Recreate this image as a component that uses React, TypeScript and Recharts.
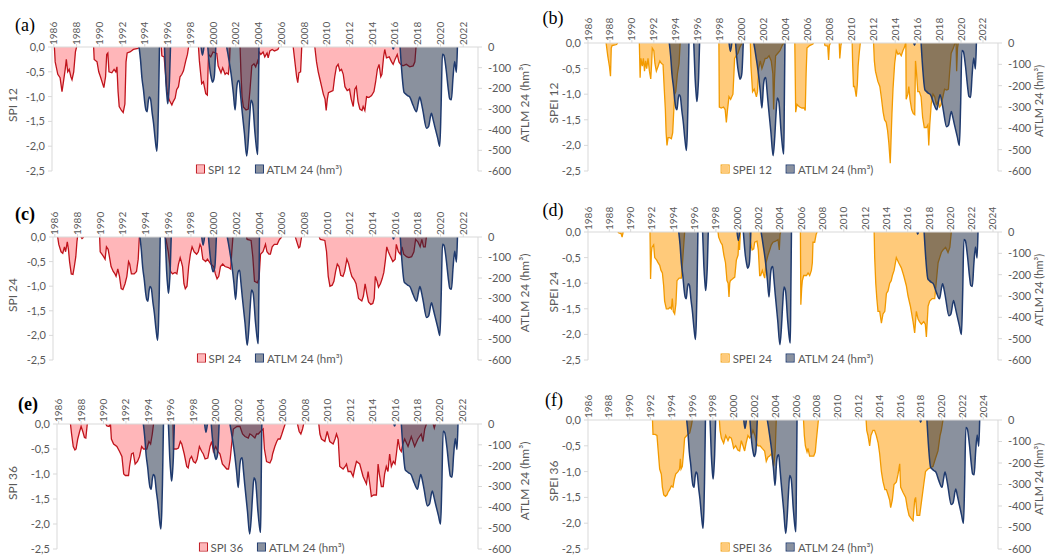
import { ComposedChart, Area, XAxis, YAxis } from "recharts";

type Pt = [number, number];

// ATLM 24 (hm³) – shared by all six panels, in its own year scale
const ATLM_24: Pt[][] = [
  [[1993.5, 0], [1993.62, -60], [1993.75, -150], [1993.89, -210], [1994.0, -270], [1994.1, -305], [1994.2, -313], [1994.3, -265], [1994.39, -242], [1994.5, -250], [1994.65, -320], [1994.77, -369], [1994.92, -450], [1995.06, -504], [1995.14, -420], [1995.2, -290], [1995.29, 0]],
  [[1995.73, 0], [1995.85, -162], [1995.95, -240], [1996.02, -274], [1996.1, -230], [1996.17, -162], [1996.26, 0]],
  [[1998.95, 0], [1999.07, -40], [1999.2, 0]],
  [[1999.54, 0], [1999.65, -70], [1999.74, -115], [1999.85, -150], [1999.95, -170], [2000.05, -160], [2000.12, -138], [2000.24, 0]],
  [[2001.2, 0], [2001.3, -30], [2001.41, -67], [2001.59, -131], [2001.79, -226], [2001.94, -305], [2002.09, -194], [2002.2, -165], [2002.29, -162], [2002.4, -220], [2002.52, -290], [2002.76, -417], [2002.96, -528], [2003.1, -450], [2003.22, -340], [2003.34, -258], [2003.48, -274], [2003.69, -417], [2003.85, -500], [2003.93, -520], [2003.98, -300], [2004.04, 0]],
  [[2015.78, 0], [2015.85, -10], [2015.92, 0]],
  [[2016.45, 0], [2016.6, -120], [2016.8, -220], [2016.95, -228], [2017.1, -235], [2017.3, -242], [2017.59, -282], [2017.89, -313], [2018.05, -270], [2018.18, -242], [2018.32, -270], [2018.47, -313], [2018.77, -393], [2018.95, -385], [2019.2, -321], [2019.35, -350], [2019.5, -385], [2019.75, -440], [2019.94, -480], [2020.05, -300], [2020.17, -35], [2020.3, -40], [2020.5, -110], [2020.7, -210], [2020.81, -250], [2020.96, -255], [2021.1, -150], [2021.25, -70], [2021.4, -122], [2021.49, 0]],
];

const SPI_12: Pt[][] = [
  [[1986.05, 0], [1986.12, -0.3], [1986.35, -0.55], [1986.55, -0.62], [1986.72, -0.9], [1986.85, -0.7], [1987.0, -0.45], [1987.1, -0.25], [1987.22, -0.5], [1987.35, -0.45], [1987.5, -0.6], [1987.6, -0.66], [1987.75, -0.5], [1987.9, -0.1], [1988.0, 0]],
  [[1989.5, 0], [1989.55, -0.25], [1989.8, -0.3], [1989.95, -0.5], [1990.1, -0.6], [1990.4, -0.82], [1990.55, -0.6], [1990.65, -0.15], [1990.75, -0.12], [1990.85, -0.5], [1991.1, -0.52], [1991.3, -0.45], [1991.45, -0.5], [1991.55, -0.4], [1991.65, -0.9], [1991.75, -1.2], [1991.95, -1.28], [1992.1, -1.32], [1992.25, -1.15], [1992.35, -0.3], [1992.45, -0.12], [1992.7, -0.1], [1993.0, -0.05], [1993.4, -0.03], [1993.5, 0]],
  [[1995.45, 0], [1995.5, -0.18], [1995.7, -0.2], [1995.95, -0.9], [1996.15, -1.07], [1996.38, -1.17], [1996.5, -1.1], [1996.67, -1.03], [1996.8, -0.86], [1996.96, -0.8], [1997.1, -0.6], [1997.26, -0.55], [1997.4, -0.48], [1997.6, -0.28], [1997.75, -0.15], [1997.85, 0]],
  [[1998.72, 0], [1998.8, -0.28], [1999.0, -0.74], [1999.15, -0.7], [1999.36, -0.94], [1999.5, -0.97], [1999.6, -0.15], [1999.8, -0.2], [2000.0, -0.1], [2000.33, -0.13], [2000.45, -0.38], [2000.7, -0.52], [2000.85, -0.42], [2001.06, -0.55], [2001.2, -0.52], [2001.35, -0.55], [2001.45, -0.3], [2001.5, 0]],
  [[2002.38, 0], [2002.45, -0.5], [2002.55, -1.0], [2002.67, -1.21], [2002.9, -1.27], [2003.1, -1.25], [2003.25, -0.87], [2003.41, -0.38], [2003.6, -0.34], [2003.75, -0.4], [2003.93, -0.28], [2004.0, -0.35], [2004.05, -0.1], [2004.2, -0.15], [2004.4, -0.1], [2004.55, -0.2], [2004.75, -0.12], [2004.85, -0.22], [2005.0, -0.08], [2005.2, -0.05], [2005.4, -0.08], [2005.7, -0.05], [2005.8, 0]],
  [[2007.05, 0], [2007.2, -0.3], [2007.35, -0.6], [2007.45, -0.72], [2007.55, -0.52], [2007.7, -0.5], [2007.8, 0]],
  [[2008.95, 0], [2009.1, -0.3], [2009.25, -0.5], [2009.4, -0.65], [2009.55, -0.8], [2009.7, -0.95], [2009.85, -1.05], [2009.95, -1.28], [2010.05, -1.05], [2010.15, -0.92], [2010.35, -0.9], [2010.55, -0.88], [2010.7, -0.6], [2010.85, -0.4], [2011.0, -0.35], [2011.15, -0.48], [2011.3, -0.45], [2011.45, -0.55], [2011.6, -0.8], [2011.8, -0.88], [2012.0, -0.85], [2012.15, -1.05], [2012.33, -1.2], [2012.47, -0.85], [2012.6, -0.8], [2012.75, -1.1], [2012.91, -1.25], [2013.1, -1.28], [2013.2, -1.2], [2013.35, -1.28], [2013.5, -1.0], [2013.7, -1.02], [2013.94, -0.98], [2014.15, -0.9], [2014.3, -0.7], [2014.45, -0.45], [2014.6, -0.35], [2014.75, -0.6], [2014.85, -0.55], [2015.0, -0.2], [2015.1, -0.05], [2015.25, -0.22], [2015.5, -0.2], [2015.7, -0.3], [2015.84, -0.35], [2016.0, -0.25], [2016.2, -0.15], [2016.35, -0.3], [2016.5, -0.35], [2016.7, -0.38], [2017.0, -0.35], [2017.3, -0.4], [2017.6, -0.38], [2017.75, -0.3], [2017.85, 0]],
];

const SPI_24: Pt[][] = [
  [[1986.25, 0], [1986.35, -0.15], [1986.55, -0.3], [1986.7, -0.33], [1986.85, -0.2], [1986.95, -0.3], [1987.1, -0.1], [1987.2, -0.25], [1987.3, -0.5], [1987.45, -0.75], [1987.6, -0.76], [1987.72, -0.6], [1987.85, -0.4], [1987.95, -0.1], [1988.0, 0]],
  [[1988.3, 0], [1988.4, -0.03], [1988.55, 0]],
  [[1989.95, 0], [1990.0, -0.3], [1990.15, -0.35], [1990.3, -0.4], [1990.43, -0.45], [1990.55, -0.2], [1990.7, -0.25], [1990.85, -0.45], [1990.96, -0.6], [1991.15, -0.7], [1991.3, -0.75], [1991.4, -0.8], [1991.55, -0.65], [1991.7, -0.8], [1991.85, -1.05], [1992.0, -1.07], [1992.19, -0.95], [1992.35, -0.8], [1992.5, -0.5], [1992.6, -0.55], [1992.75, -0.75], [1993.0, -0.75], [1993.2, -0.7], [1993.35, -0.45], [1993.45, 0]],
  [[1995.7, 0], [1995.8, -0.05], [1996.0, -0.3], [1996.2, -0.7], [1996.38, -0.75], [1996.6, -0.72], [1996.76, -0.75], [1996.9, -0.55], [1997.05, -0.42], [1997.15, -0.5], [1997.26, -0.6], [1997.38, -0.95], [1997.5, -1.05], [1997.65, -1.0], [1997.8, -0.6], [1997.95, -0.35], [1998.1, -0.2], [1998.28, -0.3], [1998.5, -0.35], [1998.65, -0.3], [1998.8, -0.15], [1998.9, -0.2], [1999.05, -0.45], [1999.3, -0.5], [1999.45, -0.45], [1999.6, -0.5], [1999.75, -0.55], [2000.0, -0.6], [2000.15, -0.75], [2000.3, -0.85], [2000.45, -0.8], [2000.6, -0.6], [2000.8, -0.55], [2001.0, -0.6], [2001.3, -0.62], [2001.5, -0.65], [2001.6, -0.3], [2001.7, 0]],
  [[2002.9, 0], [2002.95, -0.05], [2003.3, -0.07], [2003.45, -0.4], [2003.6, -0.9], [2003.85, -0.93], [2004.0, -0.85], [2004.13, -0.35], [2004.35, -0.3], [2004.57, -0.15], [2004.7, -0.3], [2004.87, -0.35], [2005.0, -0.35], [2005.16, -0.2], [2005.35, -0.15], [2005.6, -0.15], [2005.8, -0.05], [2006.0, 0]],
  [[2007.2, 0], [2007.4, -0.15], [2007.5, -0.22], [2007.6, -0.2], [2007.75, 0]],
  [[2009.3, 0], [2009.4, -0.05], [2009.8, -0.07], [2009.95, -0.3], [2010.1, -0.8], [2010.25, -1.0], [2010.45, -0.98], [2010.6, -0.9], [2010.75, -0.7], [2010.9, -0.55], [2011.05, -0.6], [2011.2, -0.78], [2011.4, -0.8], [2011.55, -0.7], [2011.74, -0.45], [2011.9, -0.55], [2012.05, -0.7], [2012.18, -0.8], [2012.39, -0.87], [2012.55, -0.95], [2012.77, -1.25], [2012.95, -1.28], [2013.06, -1.3], [2013.2, -1.2], [2013.35, -0.95], [2013.5, -1.15], [2013.65, -1.32], [2013.85, -1.37], [2014.03, -1.35], [2014.15, -1.25], [2014.25, -0.8], [2014.4, -0.9], [2014.53, -1.02], [2014.7, -0.95], [2014.85, -0.85], [2015.0, -0.72], [2015.15, -0.45], [2015.26, -0.2], [2015.4, -0.3], [2015.55, -0.38], [2015.79, -0.5], [2016.0, -0.45], [2016.1, -0.15], [2016.28, -0.3], [2016.45, -0.35], [2016.6, -0.2], [2016.75, -0.35], [2017.0, -0.4], [2017.2, -0.42], [2017.45, -0.4], [2017.65, -0.3], [2017.8, -0.05], [2018.0, -0.1], [2018.2, -0.2], [2018.35, -0.05], [2018.5, -0.2], [2018.65, -0.2], [2018.75, 0]],
];

const SPI_36: Pt[][] = [
  [[1987.05, 0], [1987.15, -0.2], [1987.3, -0.45], [1987.45, -0.52], [1987.55, -0.5], [1987.7, -0.3], [1987.87, -0.15], [1988.0, -0.05], [1988.15, -0.15], [1988.3, -0.27], [1988.42, -0.28], [1988.55, 0]],
  [[1990.2, 0], [1990.3, -0.04], [1990.5, -0.05], [1990.6, 0]],
  [[1990.62, 0], [1990.7, -0.3], [1990.9, -0.4], [1991.19, -0.45], [1991.43, -0.55], [1991.64, -0.65], [1991.8, -1.0], [1991.95, -1.03], [1992.23, -1.03], [1992.32, -0.85], [1992.5, -0.6], [1992.65, -0.58], [1992.82, -0.8], [1993.03, -0.75], [1993.21, -0.65], [1993.4, -0.45], [1993.57, -0.5], [1993.86, -0.5], [1994.05, -0.35], [1994.2, -0.4], [1994.35, -0.2], [1994.46, 0]],
  [[1996.2, 0], [1996.24, -0.5], [1996.5, -0.5], [1996.68, -0.48], [1996.85, -0.35], [1996.98, -0.4], [1997.2, -0.6], [1997.42, -0.85], [1997.55, -0.88], [1997.7, -0.7], [1997.85, -0.65], [1998.02, -0.75], [1998.2, -0.78], [1998.35, -0.7], [1998.55, -0.45], [1998.76, -0.55], [1998.9, -0.6], [1999.06, -0.7], [1999.3, -0.68], [1999.5, -0.45], [1999.65, -0.35], [1999.8, -0.55], [2000.0, -0.45], [2000.2, -0.55], [2000.39, -0.6], [2000.6, -0.8], [2000.8, -0.85], [2000.99, -0.9], [2001.15, -0.9], [2001.3, -0.7], [2001.43, -0.4], [2001.58, -0.1], [2001.9, -0.05], [2002.17, -0.05], [2002.4, -0.2], [2002.62, -0.25], [2002.91, -0.28], [2003.05, -0.2], [2003.21, -0.22], [2003.5, -0.28], [2003.65, -0.2], [2003.8, -0.2], [2004.0, -0.15], [2004.24, -0.1], [2004.35, -0.5], [2004.54, -0.75], [2004.84, -0.78], [2005.0, -0.7], [2005.08, -0.6], [2005.28, -0.45], [2005.45, -0.35], [2005.58, -0.3], [2005.75, -0.3], [2005.88, -0.22], [2006.05, -0.1], [2006.2, 0]],
  [[2007.3, 0], [2007.45, -0.15], [2007.6, -0.2], [2007.75, -0.1], [2007.85, 0]],
  [[2009.2, 0], [2009.3, -0.2], [2009.44, -0.3], [2009.74, -0.35], [2009.95, -0.15], [2010.18, -0.35], [2010.48, -0.4], [2010.65, -0.3], [2010.78, -0.2], [2010.93, -0.3], [2011.07, -0.85], [2011.37, -0.9], [2011.55, -0.85], [2011.67, -0.8], [2011.82, -0.95], [2012.05, -0.95], [2012.26, -1.05], [2012.4, -0.9], [2012.56, -0.75], [2012.85, -0.8], [2013.15, -1.05], [2013.45, -1.2], [2013.6, -0.95], [2013.75, -1.2], [2013.89, -1.45], [2014.1, -1.42], [2014.34, -1.42], [2014.49, -0.8], [2014.6, -1.0], [2014.78, -1.25], [2014.95, -1.25], [2015.07, -1.0], [2015.22, -0.85], [2015.37, -0.95], [2015.52, -0.6], [2015.67, -0.85], [2015.85, -0.75], [2016.0, -0.8], [2016.12, -0.6], [2016.27, -0.3], [2016.42, -0.5], [2016.56, -0.55], [2016.7, -0.4], [2016.86, -0.3], [2017.16, -0.45], [2017.45, -0.25], [2017.75, -0.45], [2018.04, -0.3], [2018.34, -0.2], [2018.49, -0.35], [2018.65, -0.1], [2018.8, 0]],
  [[2019.4, 0], [2019.5, -0.08], [2019.6, 0]],
];

const SPEI_12: Pt[][] = [
  [[1987.65, 0], [1987.8, -0.25], [1987.95, -0.45], [1988.05, -0.65], [1988.12, -0.1], [1988.2, -0.05], [1988.6, -0.03], [1988.7, 0]],
  [[1990.68, 0], [1990.75, -0.68], [1990.82, -0.3], [1990.95, -0.45], [1991.05, -0.3], [1991.15, -0.55], [1991.25, -0.35], [1991.35, -0.5], [1991.47, -0.3], [1991.6, -0.55], [1991.72, -0.7], [1991.8, -0.4], [1991.86, -0.1], [1992.0, -0.15], [1992.1, -0.4], [1992.23, -0.55], [1992.4, -0.45], [1992.55, -0.35], [1992.7, -0.4], [1992.84, -0.42], [1992.95, -0.9], [1993.05, -1.3], [1993.12, -1.75], [1993.2, -2.0], [1993.3, -1.85], [1993.45, -1.85], [1993.6, -1.87], [1993.72, -1.75], [1993.8, -1.4], [1993.9, -1.0], [1994.0, -0.95], [1994.15, -0.6], [1994.3, -0.4], [1994.4, 0]],
  [[1997.93, 0], [1997.97, -1.25], [1998.15, -1.27], [1998.35, -1.25], [1998.5, -1.3], [1998.61, -1.55], [1998.72, -1.3], [1998.85, -1.05], [1999.0, -1.1], [1999.21, -1.0], [1999.3, -0.6], [1999.36, -0.3], [1999.5, -0.25], [1999.67, -0.2], [1999.85, -0.08], [2000.05, 0]],
  [[2000.8, 0], [2000.85, -0.45], [2001.0, -0.95], [2001.15, -0.9], [2001.35, -1.05], [2001.45, -0.95], [2001.55, -0.5], [2001.7, -0.35], [2001.85, -0.5], [2002.0, -0.4], [2002.15, -0.3], [2002.3, -0.3], [2002.5, -0.25], [2002.7, -0.35], [2002.85, -0.6], [2002.92, -1.3], [2003.0, -0.7], [2003.1, -0.25], [2003.3, -0.2], [2003.5, -0.15], [2003.7, -0.05], [2003.85, 0]],
  [[2004.85, 0], [2004.93, -1.35], [2005.05, -1.2], [2005.14, -1.22], [2005.3, -1.25], [2005.5, -1.27], [2005.7, -1.27], [2005.8, -1.32], [2005.88, -0.6], [2005.96, -0.1], [2006.2, -0.05], [2006.5, -0.02], [2006.55, 0]],
  [[2007.55, 0], [2007.6, -0.05], [2007.85, -0.06], [2007.93, -0.33], [2008.0, -0.05], [2008.1, 0]],
  [[2008.9, 0], [2008.95, -0.3], [2009.05, -0.05], [2009.1, 0]],
  [[2010.08, 0], [2010.12, -0.4], [2010.2, -0.85], [2010.3, -0.85], [2010.45, -1.05], [2010.55, -0.8], [2010.62, -0.45], [2010.72, -0.2], [2010.82, 0]],
  [[2012.03, 0], [2012.1, -0.35], [2012.2, -0.55], [2012.42, -0.75], [2012.6, -0.85], [2012.73, -1.05], [2012.9, -1.35], [2013.03, -1.5], [2013.18, -1.55], [2013.3, -1.7], [2013.42, -1.95], [2013.55, -2.35], [2013.62, -1.9], [2013.7, -1.4], [2013.8, -0.9], [2013.95, -0.4], [2014.1, -0.15], [2014.25, -0.22], [2014.4, -0.2], [2014.55, -0.25], [2014.7, -0.15], [2014.85, -0.08], [2014.95, 0]],
  [[2014.97, 0], [2015.0, -1.1], [2015.15, -1.0], [2015.24, -0.85], [2015.35, -1.1], [2015.5, -1.3], [2015.65, -1.38], [2015.78, -1.4], [2015.85, -0.35], [2015.95, -0.6], [2016.06, -0.95], [2016.2, -0.95], [2016.36, -1.05], [2016.5, -1.45], [2016.65, -1.65], [2016.85, -1.65], [2016.98, -1.6], [2017.06, -2.0], [2017.15, -1.6], [2017.28, -1.2], [2017.45, -1.0], [2017.6, -1.05], [2017.75, -1.2], [2017.9, -1.15], [2018.05, -1.25], [2018.19, -1.2], [2018.35, -1.05], [2018.5, -0.9], [2018.7, -0.92], [2018.85, -0.9], [2018.95, -0.6], [2019.1, -0.2], [2019.3, -0.1], [2019.45, 0]],
  [[2019.55, 0], [2019.6, -0.55], [2019.68, -0.1], [2019.75, 0]],
];

const SPEI_24: Pt[][] = [
  [[1988.8, 0], [1988.9, -0.02], [1989.1, -0.03], [1989.2, -0.1], [1989.3, 0]],
  [[1991.82, 0], [1991.87, -0.92], [1991.95, -0.4], [1992.0, -0.3], [1992.16, -0.25], [1992.26, -0.5], [1992.45, -0.55], [1992.57, -0.6], [1992.73, -0.65], [1992.85, -0.75], [1992.98, -0.8], [1993.1, -1.05], [1993.19, -1.35], [1993.35, -1.5], [1993.55, -1.5], [1993.7, -1.47], [1993.82, -1.5], [1993.91, -1.3], [1994.0, -1.55], [1994.13, -1.6], [1994.25, -1.4], [1994.35, -0.95], [1994.55, -0.9], [1994.76, -0.9], [1994.9, -0.5], [1995.0, -0.2], [1995.07, 0]],
  [[1998.2, 0], [1998.26, -0.1], [1998.45, -0.2], [1998.6, -0.25], [1998.75, -0.45], [1998.9, -0.6], [1999.04, -0.95], [1999.15, -1.0], [1999.23, -1.27], [1999.3, -1.0], [1999.36, -0.95], [1999.55, -0.92], [1999.77, -0.88], [1999.92, -0.55], [2000.08, -0.45], [2000.15, -0.15], [2000.22, -0.35], [2000.3, 0]],
  [[2001.2, 0], [2001.25, -0.2], [2001.4, -0.35], [2001.55, -0.33], [2001.64, -0.2], [2001.86, -0.18], [2001.98, -0.35], [2002.11, -0.85], [2002.2, -0.85], [2002.36, -0.75], [2002.5, -0.85], [2002.58, -0.9], [2002.7, -0.6], [2002.89, -0.45], [2003.05, -0.35], [2003.2, -0.25], [2003.36, -0.2], [2003.6, -0.18], [2003.83, -0.15], [2003.95, -0.35], [2004.02, -0.05], [2004.08, 0]],
  [[2005.93, 0], [2005.97, -1.42], [2006.05, -1.1], [2006.11, -0.95], [2006.24, -0.85], [2006.5, -0.85], [2006.65, -0.8], [2006.8, -0.85], [2006.96, -0.75], [2007.05, -0.6], [2007.11, -0.2], [2007.27, -0.2], [2007.4, -0.05], [2007.5, 0]],
  [[2012.85, 0], [2012.9, -0.5], [2013.0, -1.0], [2013.1, -1.3], [2013.21, -1.55], [2013.37, -1.55], [2013.53, -1.78], [2013.68, -1.6], [2013.85, -1.55], [2014.0, -1.2], [2014.15, -1.15], [2014.31, -1.0], [2014.45, -0.95], [2014.56, -0.85], [2014.72, -0.75], [2014.93, -0.5], [2015.15, -0.6], [2015.4, -0.7], [2015.62, -0.85], [2015.87, -1.05], [2016.03, -1.25], [2016.25, -1.45], [2016.5, -1.75], [2016.65, -1.97], [2016.81, -1.55], [2016.97, -1.7], [2017.1, -1.75], [2017.28, -1.8], [2017.5, -1.75], [2017.65, -1.8], [2017.75, -2.05], [2017.91, -1.45], [2018.06, -1.35], [2018.3, -1.3], [2018.53, -1.3], [2018.69, -0.95], [2018.85, -0.6], [2019.0, -0.5], [2019.15, -0.4], [2019.31, -0.35], [2019.55, -0.3], [2019.78, -0.4], [2019.95, -0.3], [2020.09, 0]],
];

const SPEI_36: Pt[][] = [
  [[1992.2, 0], [1992.25, -0.28], [1992.45, -0.28], [1992.63, -0.3], [1992.75, -0.6], [1992.89, -0.95], [1993.05, -1.05], [1993.15, -1.3], [1993.28, -1.45], [1993.45, -1.48], [1993.6, -1.45], [1993.69, -1.4], [1993.85, -1.35], [1994.01, -1.28], [1994.17, -1.3], [1994.3, -1.15], [1994.43, -1.05], [1994.65, -1.0], [1994.8, -0.95], [1994.88, -0.75], [1994.95, -0.95], [1995.07, -0.9], [1995.2, -0.6], [1995.29, -0.35], [1995.5, -0.3], [1995.78, -0.25], [1995.95, -0.1], [1996.03, 0]],
  [[1998.63, 0], [1998.7, -0.2], [1998.82, -0.35], [1999.04, -0.45], [1999.24, -0.3], [1999.46, -0.4], [1999.6, -0.33], [1999.78, -0.35], [1999.9, -0.45], [2000.0, -0.55], [2000.2, -0.5], [2000.4, -0.58], [2000.58, -0.6], [2000.74, -0.4], [2000.9, -0.5], [2001.06, -0.6], [2001.2, -0.45], [2001.38, -0.3], [2001.55, -0.35], [2001.7, -0.3], [2001.86, -0.2], [2002.05, -0.3], [2002.2, -0.45], [2002.34, -0.5], [2002.55, -0.5], [2002.75, -0.55], [2002.98, -0.6], [2003.14, -0.8], [2003.3, -0.72], [2003.46, -0.7], [2003.65, -0.65], [2003.85, -0.9], [2004.0, -0.6], [2004.1, 0]],
  [[2006.72, 0], [2006.8, -0.3], [2006.9, -0.5], [2007.06, -0.62], [2007.15, -0.55], [2007.31, -0.7], [2007.5, -0.7], [2007.7, -0.7], [2007.85, -0.62], [2007.95, -0.4], [2008.05, -0.2], [2008.15, 0]],
  [[2012.74, 0], [2012.8, -0.2], [2012.92, -0.3], [2013.08, -0.5], [2013.2, -0.3], [2013.4, -0.2], [2013.55, -0.2], [2013.72, -0.3], [2013.9, -0.45], [2014.04, -0.65], [2014.21, -1.0], [2014.37, -1.2], [2014.55, -1.35], [2014.69, -1.35], [2014.85, -1.45], [2015.0, -1.55], [2015.1, -1.7], [2015.26, -1.55], [2015.42, -1.25], [2015.65, -1.2], [2015.81, -1.05], [2015.97, -0.85], [2016.06, -1.3], [2016.28, -1.4], [2016.54, -1.5], [2016.7, -1.7], [2016.87, -1.85], [2017.05, -1.9], [2017.25, -1.95], [2017.41, -1.55], [2017.5, -1.5], [2017.63, -1.85], [2017.89, -1.85], [2018.05, -1.6], [2018.28, -1.25], [2018.45, -1.0], [2018.69, -0.95], [2018.95, -0.92], [2019.17, -0.9], [2019.4, -0.75], [2019.65, -0.6], [2019.85, -0.3], [2019.97, -0.2], [2020.13, 0]],
];

const YEARS_TO_2022 = [1986, 1988, 1990, 1992, 1994, 1996, 1998, 2000, 2002, 2004, 2006, 2008, 2010, 2012, 2014, 2016, 2018, 2020, 2022];
const YEARS_TO_2024 = [...YEARS_TO_2022, 2024];
const SPI_TICKS = [0, -0.5, -1, -1.5, -2, -2.5];
const ATLM_TICKS = [0, -100, -200, -300, -400, -500, -600];

const FONT = "Lato, 'Liberation Sans', sans-serif";
const GREY = "#595959";
const AXIS = "#d9d9d9";
const RED = { fill: "#ffb6b9", stroke: "#c0141c" };
const ORANGE = { fill: "#ffca7a", stroke: "#f29a00" };
const NAVY = { fill: "#15233d", stroke: "#1f3a6e" };

type Row = { x: number; v: number | null };

function toRows(segs: Pt[][]): Row[] {
  const rows: Row[] = [];
  segs.forEach((seg, i) => {
    if (i > 0) rows.push({ x: seg[0][0], v: null });
    seg.forEach(([x, v]) => rows.push({ x, v }));
  });
  return rows;
}

const ATLM_ROWS = toRows(ATLM_24);

type Panel = {
  letter: string;
  bold: boolean;
  name: string;
  series: Pt[][];
  color: { fill: string; stroke: string };
  box: [number, number, number, number];
  plot: [number, number, number, number];
  years: number[];
  xDomain: [number, number];
  atlmDomain: [number, number];
  letterAt: [number, number];
  titleX: number;
};

const PANELS: Panel[] = [
  { letter: "(a)", bold: false, name: "SPI 12", series: SPI_12, color: RED, box: [0, 0, 520, 180], plot: [52, 478, 47, 171], years: YEARS_TO_2022, xDomain: [1985.84, 2023.3], atlmDomain: [1985.84, 2023.3], letterAt: [25, 25], titleX: 13 },
  { letter: "(b)", bold: false, name: "SPEI 12", series: SPEI_12, color: ORANGE, box: [520, 0, 525, 180], plot: [588, 998, 43, 171], years: YEARS_TO_2022, xDomain: [1986, 2023.37], atlmDomain: [1986.09, 2023.46], letterAt: [553, 18], titleX: 554 },
  { letter: "(c)", bold: true, name: "SPI 24", series: SPI_24, color: RED, box: [0, 180, 520, 190], plot: [53, 478, 237, 360], years: YEARS_TO_2022, xDomain: [1985.84, 2023.3], atlmDomain: [1985.84, 2023.3], letterAt: [25, 214], titleX: 13 },
  { letter: "(d)", bold: false, name: "SPEI 24", series: SPEI_24, color: ORANGE, box: [520, 180, 525, 190], plot: [588, 998, 232, 360], years: YEARS_TO_2024, xDomain: [1986, 2024.47], atlmDomain: [1985.01, 2023.36], letterAt: [553, 210], titleX: 554 },
  { letter: "(e)", bold: true, name: "SPI 36", series: SPI_36, color: RED, box: [0, 370, 520, 185], plot: [57, 478, 424, 549], years: YEARS_TO_2022, xDomain: [1985.85, 2023.4], atlmDomain: [1985.82, 2023.27], letterAt: [28, 404], titleX: 13 },
  { letter: "(f)", bold: false, name: "SPEI 36", series: SPEI_36, color: ORANGE, box: [520, 370, 525, 185], plot: [588, 998, 420, 549], years: YEARS_TO_2024, xDomain: [1986, 2025.42], atlmDomain: [1984.07, 2023.24], letterAt: [554, 400], titleX: 554 },
];

const fmtComma = (v: number) => v.toFixed(1).replace(".", ",");

function YearTick(props: any) {
  const { x, y, payload } = props;
  const px = x + 3.5;
  const py = y + 3;
  return (
    <text x={px} y={py} transform={`rotate(-90 ${px} ${py})`} textAnchor="start" fontSize={10} fill={GREY} fontFamily={FONT}>
      {payload.value}
    </text>
  );
}

function Swatch({ fill, stroke, opacity = 1 }: { fill: string; stroke: string; opacity?: number }) {
  return (
    <span style={{ position: "relative", display: "inline-block", width: 7, height: 7, border: `1px solid ${stroke}`, marginRight: 3 }}>
      <span style={{ position: "absolute", inset: 0, background: fill, opacity }} />
    </span>
  );
}

function PanelChart({ p }: { p: Panel }) {
  const [bx, by, bw, bh] = p.box;
  const [x0, x1, y0, y1] = p.plot;
  const margin = { left: x0 - bx - 40, right: bx + bw - x1 - 40, top: y0 - by - 40, bottom: by + bh - y1 };
  const midY = (y0 + y1) / 2;
  const rot = { position: "absolute" as const, transform: "translate(-50%, -50%) rotate(-90deg)", whiteSpace: "nowrap" as const, fontFamily: FONT, fontSize: 12, lineHeight: 1, color: GREY };
  const rightTitle = bx === 0 ? { left: 525 } : { left: 1038, fontSize: 11 };

  return (
    <>
      <div style={{ position: "absolute", left: bx, top: by }}>
        <ComposedChart width={bw} height={bh} margin={margin}>
          <XAxis xAxisId="top" orientation="top" type="number" dataKey="x" domain={p.xDomain} ticks={p.years} interval={0} allowDataOverflow height={40} tick={<YearTick />} tickSize={3} tickMargin={2} axisLine={{ stroke: AXIS }} tickLine={{ stroke: AXIS }} />
          <XAxis xAxisId="atlm" type="number" dataKey="x" domain={p.atlmDomain} allowDataOverflow hide />
          <YAxis yAxisId="spi" domain={[-2.5, 0]} ticks={SPI_TICKS} interval={0} allowDataOverflow width={40} tickFormatter={fmtComma} tick={{ fontSize: 11, fill: GREY, fontFamily: FONT }} tickSize={4} tickMargin={3} axisLine={{ stroke: AXIS }} tickLine={{ stroke: AXIS }} />
          <YAxis yAxisId="atlm" orientation="right" domain={[-600, 0]} ticks={ATLM_TICKS} interval={0} allowDataOverflow width={40} tick={{ fontSize: 11, fill: GREY, fontFamily: FONT }} tickSize={4} tickMargin={6} axisLine={{ stroke: AXIS }} tickLine={{ stroke: AXIS }} />
          <Area data={toRows(p.series)} xAxisId="top" yAxisId="spi" dataKey="v" type="linear" baseValue={0} fill={p.color.fill} fillOpacity={1} stroke={p.color.stroke} strokeWidth={1.3} isAnimationActive={false} />
          <Area data={ATLM_ROWS} xAxisId="atlm" yAxisId="atlm" dataKey="v" type="monotone" baseValue={0} fill={NAVY.fill} fillOpacity={0.5} stroke={NAVY.stroke} strokeWidth={1.5} isAnimationActive={false} />
        </ComposedChart>
      </div>
      <div style={{ position: "absolute", left: p.letterAt[0], top: p.letterAt[1], transform: "translate(-50%, -50%)", fontFamily: "'Liberation Serif', 'Times New Roman', serif", fontSize: 18, fontWeight: p.bold ? 700 : 400, color: "#000" }}>
        {p.letter}
      </div>
      <div style={{ ...rot, left: p.titleX, top: midY - 4 }}>{p.name}</div>
      <div style={{ ...rot, ...rightTitle, top: midY - 6 }}>ATLM 24 (hm³)</div>
      <div style={{ position: "absolute", left: (x0 + x1) / 2 + 4, top: y1 - 2, transform: "translate(-50%, -50%)", display: "flex", alignItems: "center", whiteSpace: "nowrap", fontFamily: FONT, fontSize: 11.5, color: GREY }}>
        <Swatch fill={p.color.fill} stroke={p.color.stroke} />
        <span style={{ marginRight: 14 }}>{p.name}</span>
        <Swatch fill={NAVY.fill} stroke={NAVY.stroke} opacity={0.5} />
        <span>ATLM 24 (hm³)</span>
      </div>
    </>
  );
}

export default function App() {
  return (
    <div style={{ position: "absolute", left: 0, top: 0, width: 1045, height: 555, background: "#fff", overflow: "hidden" }}>
      {PANELS.map((p) => (
        <PanelChart key={p.letter} p={p} />
      ))}
    </div>
  );
}
